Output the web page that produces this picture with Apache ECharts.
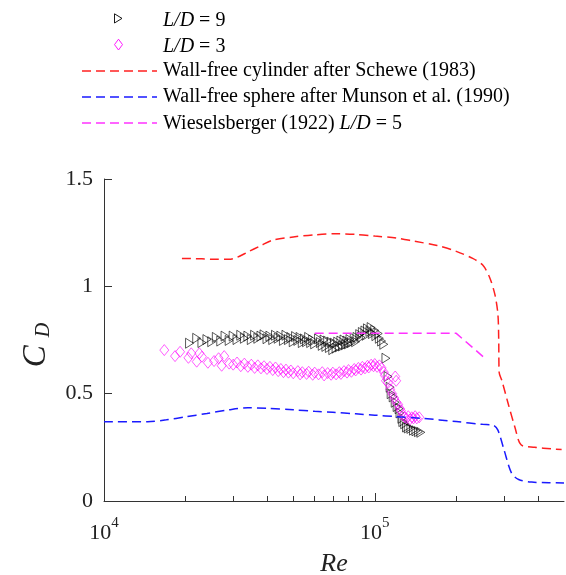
<!DOCTYPE html>
<html>
<head>
<meta charset="utf-8">
<script src="https://cdn.jsdelivr.net/npm/echarts@6/dist/echarts.min.js"></script>
<style>
html,body{margin:0;padding:0;background:#fff;overflow:hidden;}
#c{width:566px;height:575px;}
</style>
</head>
<body>
<div id="c"></div>
<script>
// ---- Data (Re, C_D) ----
var seriesNames = ['L/D = 9', 'L/D = 3', 'Wall-free cylinder after Schewe (1983)', 'Wall-free sphere after Munson et al. (1990)', 'Wieselsberger (1922) L/D = 5'];

var ld9 = [
  [2.07e4,0.735],[2.2e4,0.758],[2.3e4,0.738],[2.4e4,0.752],[2.5e4,0.742],[2.6e4,0.762],[2.7e4,0.745],[2.8e4,0.768],
  [2.9e4,0.748],[3.0e4,0.768],[3.1e4,0.752],[3.2e4,0.772],[3.3e4,0.758],[3.4e4,0.768],[3.5e4,0.752],[3.6e4,0.772],
  [3.7e4,0.758],[3.8e4,0.768],[3.9e4,0.774],[4.0e4,0.756],[4.1e4,0.768],[4.2e4,0.752],[4.3e4,0.772],[4.4e4,0.758],
  [4.5e4,0.768],[4.6e4,0.748],[4.7e4,0.772],[4.8e4,0.752],[4.9e4,0.762],[5.0e4,0.742],[5.1e4,0.766],[5.2e4,0.748],
  [5.3e4,0.762],[5.4e4,0.738],[5.5e4,0.755],[5.6e4,0.742],[5.7e4,0.762],[5.8e4,0.738],[5.9e4,0.75],[6.0e4,0.732],
  [6.2e4,0.755],[6.3e4,0.738],[6.4e4,0.725],[6.5e4,0.75],[6.6e4,0.72],[6.7e4,0.745],[6.8e4,0.715],[6.9e4,0.74],
  [7.0e4,0.705],[7.1e4,0.735],[7.2e4,0.712],[7.3e4,0.74],[7.4e4,0.718],[7.5e4,0.745],[7.6e4,0.722],[7.7e4,0.75],
  [7.8e4,0.728],[7.9e4,0.745],[8.0e4,0.732],[8.1e4,0.752],[8.2e4,0.738],[8.4e4,0.758],[8.5e4,0.742],[8.6e4,0.762],
  [8.8e4,0.775],[8.9e4,0.762],[9.0e4,0.785],[9.2e4,0.792],[9.3e4,0.772],[9.4e4,0.802],[9.6e4,0.79],[9.7e4,0.808],
  [9.8e4,0.78],[1.0e5,0.795],[1.01e5,0.77],[1.03e5,0.78],[1.04e5,0.758],[1.06e5,0.745],[1.08e5,0.73],[1.1e5,0.665],
  [1.12e5,0.58],[1.14e5,0.53],[1.15e5,0.5],[1.17e5,0.485],[1.19e5,0.46],[1.21e5,0.44],[1.23e5,0.43],[1.24e5,0.41],
  [1.26e5,0.385],[1.27e5,0.37],[1.29e5,0.36],[1.31e5,0.345],[1.33e5,0.34],[1.36e5,0.338],[1.39e5,0.33],[1.42e5,0.327],
  [1.45e5,0.323],[1.48e5,0.32]
];

var ld3 = [
  [1.67e4,0.703],[1.83e4,0.675],[1.91e4,0.695],[2.05e4,0.667],[2.1e4,0.688],[2.2e4,0.649],[2.25e4,0.688],[2.3e4,0.672],
  [2.42e4,0.644],[2.55e4,0.652],[2.65e4,0.665],[2.72e4,0.63],[2.78e4,0.675],[2.9e4,0.64],[3.0e4,0.635],[3.1e4,0.645],
  [3.2e4,0.628],[3.3e4,0.64],[3.4e4,0.625],[3.5e4,0.635],[3.6e4,0.62],[3.7e4,0.632],[3.8e4,0.618],[3.9e4,0.628],
  [4.0e4,0.615],[4.1e4,0.625],[4.2e4,0.61],[4.3e4,0.622],[4.4e4,0.605],[4.5e4,0.615],[4.6e4,0.6],[4.7e4,0.612],
  [4.8e4,0.598],[4.9e4,0.608],[5.0e4,0.595],[5.2e4,0.605],[5.3e4,0.59],[5.4e4,0.6],[5.6e4,0.592],[5.7e4,0.602],
  [5.9e4,0.588],[6.0e4,0.598],[6.2e4,0.59],[6.4e4,0.6],[6.5e4,0.585],[6.7e4,0.596],[6.9e4,0.588],[7.0e4,0.598],
  [7.2e4,0.59],[7.4e4,0.6],[7.5e4,0.592],[7.7e4,0.605],[7.9e4,0.598],[8.0e4,0.61],[8.2e4,0.602],[8.4e4,0.615],
  [8.5e4,0.608],[8.7e4,0.62],[8.9e4,0.612],[9.0e4,0.625],[9.2e4,0.618],[9.4e4,0.63],[9.5e4,0.622],[9.7e4,0.635],
  [9.9e4,0.628],[1.0e5,0.638],[1.02e5,0.625],[1.04e5,0.632],[1.06e5,0.62],[1.08e5,0.6],[1.09e5,0.585],[1.1e5,0.56],
  [1.12e5,0.55],[1.14e5,0.52],[1.16e5,0.5],[1.19e5,0.58],[1.2e5,0.56],[1.18e5,0.48],[1.2e5,0.46],[1.22e5,0.45],
  [1.24e5,0.43],[1.25e5,0.42],[1.27e5,0.4],[1.29e5,0.39],[1.31e5,0.385],[1.33e5,0.395],[1.35e5,0.38],[1.37e5,0.39],
  [1.39e5,0.385],[1.41e5,0.395],[1.43e5,0.385],[1.46e5,0.39]
];

var schewe = [
  [1.94e4,1.13],[2.3e4,1.128],[2.6e4,1.126],[2.9e4,1.126],[3.1e4,1.135],[3.4e4,1.16],[3.8e4,1.19],[4.2e4,1.215],
  [5e4,1.23],[6e4,1.24],[7.2e4,1.245],[8.5e4,1.242],[1.0e5,1.234],[1.2e5,1.225],[1.4e5,1.21],[1.7e5,1.19],
  [2.0e5,1.163],[2.3e5,1.13],[2.5e5,1.1],[2.65e5,1.045],[2.78e5,0.96],[2.85e5,0.87],[2.87e5,0.75],[2.88e5,0.6],
  [2.95e5,0.56],[3.1e5,0.46],[3.3e5,0.34],[3.47e5,0.262],[3.9e5,0.25],[4.5e5,0.243],[4.9e5,0.24]
];

var munson = [
  [1e4,0.369],[1.45e4,0.369],[1.7e4,0.378],[2e4,0.392],[2.4e4,0.408],[2.9e4,0.425],[3.4e4,0.434],[4e4,0.432],
  [5e4,0.425],[6e4,0.418],[7e4,0.413],[8.5e4,0.406],[1.0e5,0.4],[1.2e5,0.393],[1.5e5,0.385],[2e5,0.37],
  [2.5e5,0.357],[2.74e5,0.353],[2.85e5,0.33],[3.0e5,0.24],[3.2e5,0.13],[3.4e5,0.1],[3.8e5,0.088],[4.4e5,0.085],[5e5,0.084]
];

var wiesels = [[6.0e4,0.781],[2.0e5,0.781],[2.58e5,0.66]];

var xMajorTicks = [1e4, 1e5];
var xMinorTicks = [2e4,3e4,4e4,5e4,6e4,7e4,8e4,9e4,2e5,3e5,4e5];

// ---- Chart ----
var FONT = "'Liberation Serif','Times New Roman',serif";
var chart = echarts.init(document.getElementById('c'), null, {renderer: 'canvas', width: 566, height: 575});

var RED = '#ff2020', BLUE = '#1a1aff', MAG = '#ff33ff', DMAG = '#ff00ff';

// legend drawn as graphic elements (icons + real text)
var legendRows = [71, 97, 123];
var lineColors = [RED, BLUE, MAG];
var legendTexts = [
  '{i|L/D} = 9',
  '{i|L/D} = 3',
  seriesNames[2],
  seriesNames[3],
  'Wieselsberger (1922) {i|L/D} = 5'
];
var legendTextY = [21, 47, 71, 97, 124];
var richI = {i: {fontFamily: FONT, fontSize: 20, fontStyle: 'italic', fill: '#000'}};
var graphics = [];
graphics.push({type: 'polygon', shape: {points: [[114.5, 13.8], [114.5, 23], [122, 18.4]]},
  style: {fill: 'none', stroke: '#000', lineWidth: 0.9}});
graphics.push({type: 'polygon', shape: {points: [[118.5, 39.2], [122.5, 44.6], [118.5, 50], [114.5, 44.6]]},
  style: {fill: 'none', stroke: DMAG, lineWidth: 0.9}});
for (var k = 0; k < 3; k++) {
  graphics.push({type: 'line', shape: {x1: 82, y1: legendRows[k], x2: 157, y2: legendRows[k]},
    style: {stroke: lineColors[k], lineWidth: 1.5, lineDash: [9, 5]}});
}
for (var t = 0; t < 5; t++) {
  graphics.push({type: 'text', x: 163, y: legendTextY[t],
    style: {text: legendTexts[t], fill: '#000', font: '20px ' + FONT, verticalAlign: 'middle', align: 'left', rich: richI}});
}

var option = {
  animation: false,
  backgroundColor: '#fff',
  textStyle: {fontFamily: FONT},
  graphic: graphics,
  grid: {left: 104, top: 179, width: 460, height: 322, containLabel: false, outerBoundsMode: 'none'},
  xAxis: [{
    type: 'log', logBase: 10, min: 1e4, max: 5e5,
    name: 'Re', nameLocation: 'middle', nameGap: 50,
    nameTextStyle: {fontFamily: FONT, fontSize: 26, fontStyle: 'italic', color: '#222'},
    axisLine: {show: true, lineStyle: {color: '#333', width: 1}},
    axisTick: {show: true, inside: true, length: 8, lineStyle: {color: '#333'}, customValues: xMajorTicks},
    axisLabel: {
      show: true, margin: 15, customValues: xMajorTicks,
      formatter: function (v) { return '{b|10}{s|' + Math.round(Math.log10(v)) + '}'; },
      rich: {
        b: {fontFamily: FONT, fontSize: 22, color: '#222', lineHeight: 28, verticalAlign: 'bottom'},
        s: {fontFamily: FONT, fontSize: 15, color: '#222', lineHeight: 20, verticalAlign: 'top'}
      }
    },
    splitLine: {show: false}
  }, {
    type: 'log', logBase: 10, min: 1e4, max: 5e5, position: 'bottom',
    axisLine: {show: false},
    axisTick: {show: true, inside: true, length: 5, lineStyle: {color: '#333'}, customValues: xMinorTicks},
    axisLabel: {show: false},
    splitLine: {show: false}
  }],
  yAxis: {
    type: 'value', min: 0, max: 1.5, interval: 0.5,
    name: '{c|C}{d|D}', nameLocation: 'middle', nameRotate: 90, nameGap: 48,
    nameTextStyle: {
      rich: {
        c: {fontFamily: FONT, fontSize: 33, fontStyle: 'italic', color: '#222', lineHeight: 34, padding: [0,8,2,0], verticalAlign: 'top'},
        d: {fontFamily: FONT, fontSize: 20, fontStyle: 'italic', color: '#222', lineHeight: 18, padding: [0,10,0,0], verticalAlign: 'bottom'}
      }
    },
    axisLine: {show: true, lineStyle: {color: '#333', width: 1}},
    axisTick: {show: true, inside: true, length: 8, lineStyle: {color: '#333'}},
    axisLabel: {fontFamily: FONT, fontSize: 22, color: '#222', margin: 11},
    splitLine: {show: false}
  },
  series: [{
    name: seriesNames[0], type: 'scatter', data: ld9, xAxisIndex: 0,
    symbol: 'triangle', symbolRotate: -90, symbolSize: [10, 8],
    itemStyle: {color: 'rgba(255,255,255,0)', borderColor: '#000', borderWidth: 0.8}
  }, {
    name: seriesNames[1], type: 'scatter', data: ld3, xAxisIndex: 0,
    symbol: 'diamond', symbolSize: [9, 11],
    itemStyle: {color: 'rgba(255,255,255,0)', borderColor: DMAG, borderWidth: 0.8}
  }, {
    name: seriesNames[2], type: 'line', data: schewe, xAxisIndex: 0,
    symbol: 'none', smooth: 0.3,
    lineStyle: {color: RED, width: 1.5, type: [9, 5]}
  }, {
    name: seriesNames[3], type: 'line', data: munson, xAxisIndex: 0,
    symbol: 'none', smooth: 0.3,
    lineStyle: {color: BLUE, width: 1.5, type: [9, 5]}
  }, {
    name: seriesNames[4], type: 'line', data: wiesels, xAxisIndex: 0,
    symbol: 'none',
    lineStyle: {color: MAG, width: 1.5, type: [9, 5]}
  }]
};
chart.setOption(option);
</script>
</body>
</html>
